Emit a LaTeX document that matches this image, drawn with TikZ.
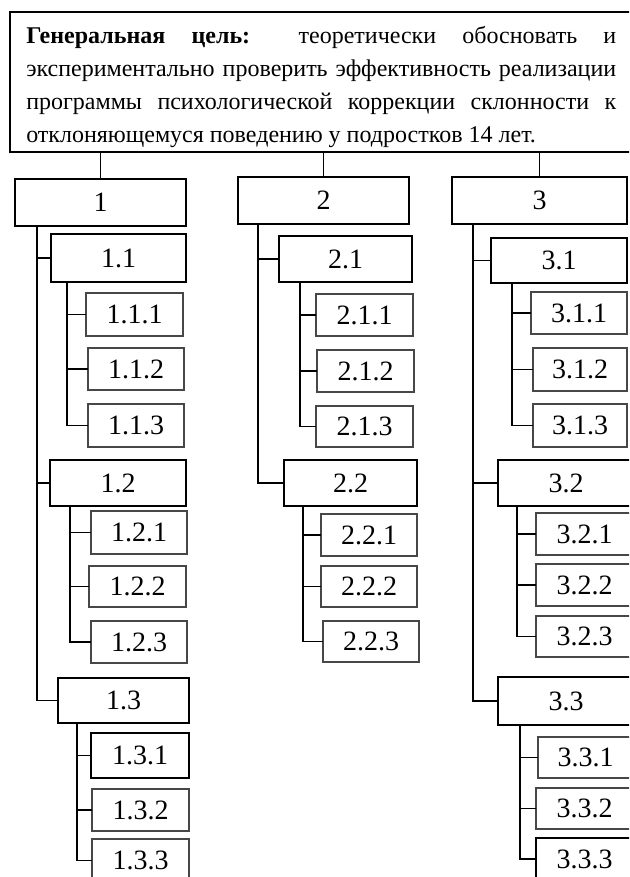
\documentclass[tikz,border=0pt]{standalone}
\usepackage{fontspec}
\setmainfont{Liberation Serif}
\begin{document}
\begin{tikzpicture}[x=0.75pt,y=-0.75pt,
  box/.style={draw=black, line width=0.95pt, inner sep=0pt, outer sep=0pt, fill=white,
    font=\fontsize{21}{25}\selectfont},
  lvthree/.style={box, draw=black!72},
  link/.style={draw=black, line width=0.95pt}]
\useasboundingbox (0,0) rectangle (629,877);
\clip (0,0) rectangle (629,877);
\newcommand\bx[7][box]{\node[#1, minimum width={(#5-#3)*0.75pt}, minimum height={(#6-#4)*0.75pt}] (#2) at ({(#3+#5)/2},{(#4+#6)/2}) {#7};}
% goal
\bx{goal}{10}{12}{660}{152}{}
\node[anchor=north west, inner sep=0pt, text width=442.5pt, align=justify,
  font=\fontsize{18}{24.75}\selectfont] (goaltext) at (26,26)
  {\textbf{Генеральная цель:} теоретически обосновать и\linebreak
   экспериментально проверить эффективность реализации\linebreak
   программы психологической коррекции склонности к\linebreak
   отклоняющемуся поведению у подростков 14 лет.};
% level 1
\bx{b1}{15}{179}{186}{226}{1}
\bx{b2}{238}{177}{409}{224}{2}
\bx{b3}{452}{177}{627}{224}{3}
% level 2
\bx{b11}{51}{234}{186}{282}{1.1}
\bx{b12}{50}{460}{186}{506}{1.2}
\bx{b13}{58}{678}{189}{723}{1.3}
\bx{b21}{279}{236}{412}{282}{2.1}
\bx{b22}{284}{460}{417}{506}{2.2}
\bx{b31}{491}{238}{627}{283}{3.1}
\bx{b32}{498}{460}{634}{506}{3.2}
\bx{b33}{498}{677}{634}{725}{3.3}
% level 3
\bx[lvthree]{b111}{86}{293}{183}{336}{1.1.1}
\bx[lvthree]{b112}{88}{348}{184}{390}{1.1.2}
\bx[lvthree]{b113}{88}{404}{184}{447}{1.1.3}
\bx[lvthree]{b121}{91}{511}{187}{554}{1.2.1}
\bx[lvthree]{b122}{89}{566}{186}{607}{1.2.2}
\bx[lvthree]{b123}{91}{621}{187}{663}{1.2.3}
\bx{b131}{91}{733}{189}{778}{1.3.1}
\bx[lvthree]{b132}{92}{789}{189}{831}{1.3.2}
\bx[lvthree]{b133}{92}{839}{189}{882}{1.3.3}
\bx[lvthree]{b211}{316}{294}{413}{336}{2.1.1}
\bx[lvthree]{b212}{317}{350}{414}{392}{2.1.2}
\bx[lvthree]{b213}{316}{406}{413}{447}{2.1.3}
\bx[lvthree]{b221}{321}{514}{417}{556}{2.2.1}
\bx[lvthree]{b222}{321}{566}{417}{607}{2.2.2}
\bx[lvthree]{b223}{323}{621}{419}{662}{2.2.3}
\bx[lvthree]{b311}{531}{292}{627}{334}{3.1.1}
\bx[lvthree]{b312}{533}{348}{627}{391}{3.1.2}
\bx[lvthree]{b313}{533}{404}{627}{447}{3.1.3}
\bx[lvthree]{b321}{536}{513}{633}{555}{3.2.1}
\bx[lvthree]{b322}{536}{564}{633}{606}{3.2.2}
\bx[lvthree]{b323}{536}{616}{633}{657}{3.2.3}
\bx[lvthree]{b331}{538}{737}{633}{778}{3.3.1}
\bx[lvthree]{b332}{536}{788}{633}{829}{3.3.2}
\bx{b333}{536}{838}{633}{880}{3.3.3}
% spine coordinates
\coordinate (s1) at (37,0);
\coordinate (s11) at (67,0);
\coordinate (s12) at (70,0);
\coordinate (s13) at (77,0);
\coordinate (s2) at (258,0);
\coordinate (s21) at (300,0);
\coordinate (s22) at (303,0);
\coordinate (s3) at (473,0);
\coordinate (s31) at (512,0);
\coordinate (s32) at (517,0);
\coordinate (s33) at (520,0);
% goal to level 1
\draw[link] (goal.south -| b1.north) -- (b1.north);
\draw[link] (goal.south -| b2.north) -- (b2.north);
\draw[link] (goal.south -| b3.north) -- (b3.north);
% level 1 to level 2
\foreach \c in {b11,b12,b13} \draw[link] (s1 |- b1.south) |- (\c.west);
\foreach \c in {b21,b22} \draw[link] (s2 |- b2.south) |- (\c.west);
\foreach \c in {b31,b32,b33} \draw[link] (s3 |- b3.south) |- (\c.west);
% level 2 to level 3
\foreach \c in {b111,b112,b113} \draw[link] (s11 |- b11.south) |- (\c.west);
\foreach \c in {b121,b122,b123} \draw[link] (s12 |- b12.south) |- (\c.west);
\foreach \c in {b131,b132,b133} \draw[link] (s13 |- b13.south) |- (\c.west);
\foreach \c in {b211,b212,b213} \draw[link] (s21 |- b21.south) |- (\c.west);
\foreach \c in {b221,b222,b223} \draw[link] (s22 |- b22.south) |- (\c.west);
\foreach \c in {b311,b312,b313} \draw[link] (s31 |- b31.south) |- (\c.west);
\foreach \c in {b321,b322,b323} \draw[link] (s32 |- b32.south) |- (\c.west);
\foreach \c in {b331,b332,b333} \draw[link] (s33 |- b33.south) |- (\c.west);
\end{tikzpicture}
\end{document}
